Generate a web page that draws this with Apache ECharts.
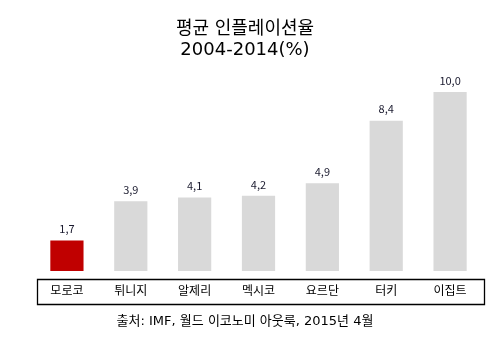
<!DOCTYPE html>
<html>
<head>
<meta charset="utf-8">
<script src="https://cdn.jsdelivr.net/npm/echarts@6/dist/echarts.min.js"></script>
<style>
  html, body { margin: 0; padding: 0; background: #fff; }
  #chart { width: 490px; height: 340px; }
</style>
</head>
<body>
<div id="chart"></div>
<script>
// Average inflation 2004-2014, by country
const countries = ['모로코', '튀니지', '알제리', '멕시코', '요르단', '터키', '이집트'];
const inflation = [1.7, 3.9, 4.1, 4.2, 4.9, 8.4, 10.0];
const highlighted = '모로코';

const FONT = '"Noto Sans CJK KR", "Noto Sans", sans-serif';
const WIDE_FONT = '"DejaVu Sans", "Noto Sans CJK KR", sans-serif';
const chart = echarts.init(document.getElementById('chart'));

const GRID = { left: 35, right: 8, top: 92, bottom: 69 };

chart.setOption({
  animation: false,
  backgroundColor: '#ffffff',
  title: {
    text: '평균 인플레이션율\n2004-2014(%)',
    left: 'center',
    top: 14,
    textStyle: { fontFamily: WIDE_FONT, fontSize: 18, fontWeight: 'normal', color: '#000', lineHeight: 21 }
  },
  grid: GRID,
  xAxis: {
    type: 'category',
    data: countries,
    axisLine: { show: false },
    axisTick: { show: false },
    axisLabel: { color: '#000', fontFamily: FONT, fontSize: 12, margin: 13 }
  },
  yAxis: {
    type: 'value',
    min: 0,
    max: 10,
    show: false,
    splitLine: { show: false }
  },
  series: [{
    type: 'bar',
    barWidth: '52%',
    data: inflation.map((v, i) => ({
      value: v,
      itemStyle: { color: countries[i] === highlighted ? '#C00000' : '#D9D9D9' }
    })),
    label: {
      show: true,
      position: 'top',
      distance: 6,
      color: '#1a1a2e',
      fontFamily: FONT,
      fontSize: 11,
      formatter: p => p.value.toFixed(1).replace('.', ',')
    }
  }],
  graphic: [
    {
      type: 'rect',
      left: GRID.left,
      top: 277,
      shape: { width: 490 - GRID.left - GRID.right, height: 25 },
      style: { fill: 'none', stroke: '#000', lineWidth: 1.3 },
      silent: true
    },
    {
      type: 'text',
      left: 'center',
      top: 315,
      style: { text: '출처: IMF, 월드 이코노미 아웃룩, 2015년 4월', font: '13px ' + WIDE_FONT, fill: '#000' }
    }
  ]
});
</script>
</body>
</html>
